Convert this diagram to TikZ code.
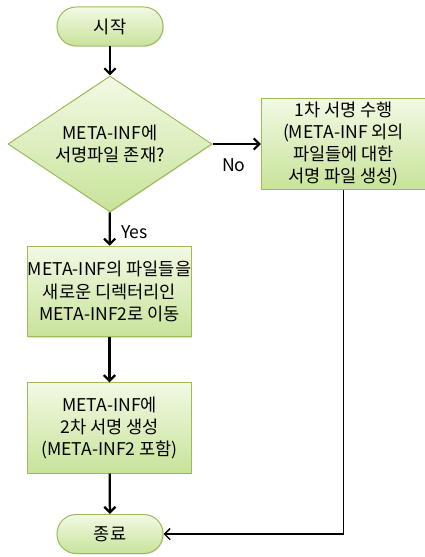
\documentclass[tikz,border=0pt]{standalone}
\usepackage{fontspec}
\setmainfont{Noto Sans CJK KR}
\usetikzlibrary{shapes.geometric,shadows,arrows.meta}
\definecolor{boxtop}{HTML}{F2F9E4}
\definecolor{boxbot}{HTML}{C8E39A}
\definecolor{boxline}{HTML}{9BBB59}

\begin{document}
\begin{tikzpicture}[
  x=0.025cm, y=-0.025cm,
  font=\fontsize{12.5}{15.8}\selectfont,
  schritt/.style={
    shape=rectangle,
    draw=boxline, line width=0.7pt,
    top color=boxtop, bottom color=boxbot,
    drop shadow={opacity=0.25, shadow xshift=0.6pt, shadow yshift=-0.6pt},
    align=center, inner sep=0pt,
    minimum width=4.1cm, minimum height=2.26cm
  },
  terminal/.style={
    schritt, rounded corners=0.48cm,
    minimum width=2.65cm, minimum height=0.975cm
  },
  frage/.style={
    schritt, shape=diamond, aspect=1.5,
    minimum width=5.1cm, minimum height=3.4cm
  },
  pfeil/.style={
    line width=1.6pt, -{Straight Barb[length=4pt,width=8pt]}
  }
]

\useasboundingbox (0,0) rectangle (425,557);

\draw (110, 26.5) node [terminal] (start) {시작};
\draw (110, 144) node [frage] (q) {META-INF에\\서명파일 존재?};
\draw (109.5, 291.5) node [schritt] (move) {META-INF의 파일들을\\새로운 디렉터리인\\META-INF2로 이동};
\draw (109.5, 428) node [schritt] (sign2) {META-INF에\\2차 서명 생성\\(META-INF2 포함)};
\draw (110, 534) node [terminal] (ende) {종료};
\draw (343.5, 144) node [schritt, minimum height=2.25cm] (sign1) {1차 서명 수행\\(META-INF 외의\\파일들에 대한\\서명 파일 생성)};

\coordinate (knick) at (sign1.south |- ende.east);

\path
  (start) edge [pfeil] (q)
  (q) edge [pfeil] node [right, xshift=4pt, yshift=-2pt] {Yes} (move)
  (move) edge [pfeil] (sign2)
  (sign2) edge [pfeil] (ende)
  (q) edge [pfeil] node [below, yshift=-6pt, xshift=-2pt] {No} (sign1)
  ;

\draw [line width=1pt, -{Straight Barb[length=4pt,width=8pt]}]
  (sign1.south) -- (knick) -- (ende.east);
\end{tikzpicture}
\end{document}
